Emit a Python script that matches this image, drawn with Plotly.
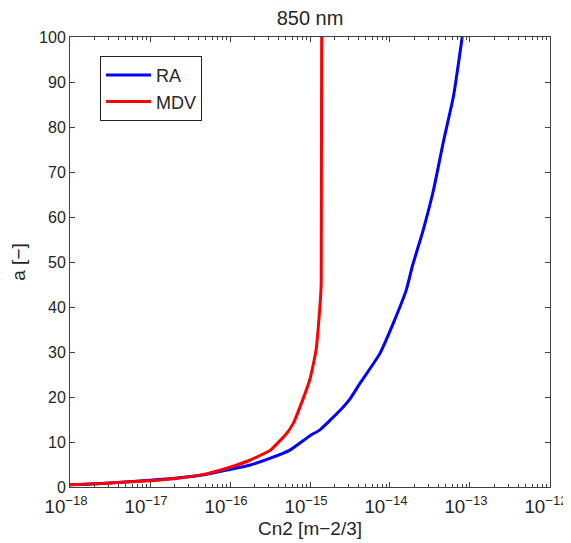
import plotly.graph_objects as go

# RA series (Cn2 values, a values)
ra_cn2 = [1e-18, 2.5e-18, 1e-17, 2.2e-17, 4.7e-17, 1e-16, 1.8e-16, 3.2e-16, 5.6e-16,
          1e-15, 1.33e-15, 1.8e-15, 2.4e-15, 3.2e-15, 4.2e-15, 7.5e-15, 1.1e-14,
          1.6e-14, 1.9e-14, 2.6e-14, 3.5e-14, 4.7e-14, 6.2e-14, 8.0e-14]
ra_a = [0.5, 0.8, 1.5, 2.0, 2.7, 3.9, 4.9, 6.4, 8.2,
        11.4, 12.7, 14.9, 17.1, 19.7, 23.0, 29.7, 36.4,
        43.8, 49.0, 57.1, 66.0, 77.1, 86.7, 100.0]

# MDV series
mdv_cn2 = [1e-18, 2.5e-18, 1e-17, 2.1e-17, 4.7e-17, 1e-16, 1.8e-16, 3.2e-16,
           5.1e-16, 6.2e-16, 7.5e-16, 1.0e-15, 1.19e-15, 1.32e-15, 1.38e-15, 1.4e-15]
mdv_a = [0.5, 0.8, 1.4, 1.9, 2.8, 4.4, 6.0, 8.2,
         11.9, 14.2, 17.8, 24.0, 30.4, 39.3, 45.0, 100.0]

x_range_log = [-18, -12]
y_range = [0, 100]

title_text = "850 nm"
x_label = "Cn2 [m\u22122/3]"
y_label = "a [\u2212]"

font_family = "Liberation Sans, Arial, sans-serif"
txt = "#262626"
axc = "#404040"

fig = go.Figure()
fig.add_trace(go.Scatter(x=ra_cn2, y=ra_a, mode="lines", name="RA",
                         line=dict(color="#0000ff", width=3, shape="spline",
                                   smoothing=0.5)))
fig.add_trace(go.Scatter(x=mdv_cn2, y=mdv_a, mode="lines", name="MDV",
                         line=dict(color="#ff0000", width=3, shape="spline",
                                   smoothing=0.4)))

# the page body adds an 8px offset; margins compensate so the plot lands in place
fig.update_layout(
    width=571, height=543,
    margin=dict(l=62, r=29, t=29, b=64),
    paper_bgcolor="white", plot_bgcolor="white",
    font=dict(family=font_family, size=16, color=txt),
    title=dict(text=title_text, x=302 / 571, xanchor="center",
               y=1 - 10 / 543, yanchor="middle", font=dict(size=20, color=txt)),
    showlegend=True,
    legend=dict(x=0.0625, y=0.958, xanchor="left", yanchor="top",
                bgcolor="white", bordercolor="#222", borderwidth=1,
                font=dict(size=18, color=txt), tracegroupgap=0, itemwidth=45),
    xaxis=dict(type="log", range=[x_range_log[0] - 0.0005, x_range_log[1] + 0.0005],
               dtick=1, exponentformat="power", tickfont=dict(size=15),
               ticklabelshift=-4, ticklabelstandoff=3,
               showgrid=False, zeroline=False, showline=True, linecolor=axc,
               linewidth=1, mirror="ticks", ticks="inside", ticklen=5,
               tickcolor=axc, automargin=False,
               minor=dict(ticks="inside", ticklen=3, tickcolor=axc, dtick="D1",
                          showgrid=False),
               title=dict(text=x_label, standoff=5, font=dict(size=19))),
    yaxis=dict(range=y_range, dtick=10, showgrid=False, zeroline=False,
               showline=True, linecolor=axc, linewidth=1, mirror="ticks",
               ticks="inside", ticklen=5, tickcolor=axc, automargin=False,
               title=dict(text=y_label, standoff=14, font=dict(size=19))),
)

fig.write_html("out.html")
